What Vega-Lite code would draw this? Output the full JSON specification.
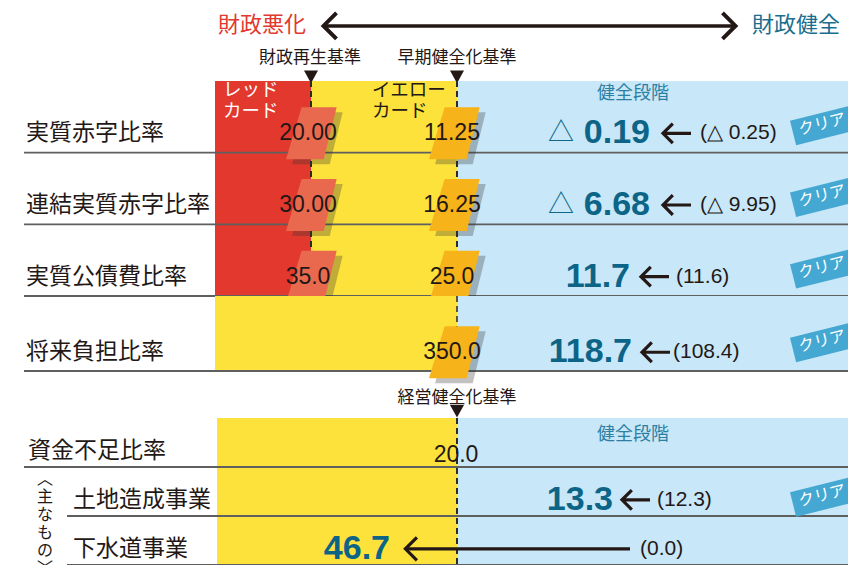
{
"$schema":"https://vega.github.io/schema/vega-lite/v6.json",
"padding":0,
"spacing":0,
"bounds":"flush",
"background":"#ffffff",
"config":{"view":{"stroke":null},"axis":{"disable":true},"concat":{"spacing":0}},
"datasets":{
 "header":[
  {"tier":"direction","side":"worse","label":"財政悪化"},
  {"tier":"direction","side":"better","label":"財政健全"},
  {"tier":"criteria","criterion":"red","label":"財政再生基準"},
  {"tier":"criteria","criterion":"yellow","label":"早期健全化基準"}
 ],
 "ratios":[
  {"item":"実質赤字比率","red":"20.00","yellow":"11.25","sign":"△","value":"0.19","prev":"(△ 0.25)","status":"クリア"},
  {"item":"連結実質赤字比率","red":"30.00","yellow":"16.25","sign":"△","value":"6.68","prev":"(△ 9.95)","status":"クリア"},
  {"item":"実質公債費比率","red":"35.0","yellow":"25.0","sign":"","value":"11.7","prev":"(11.6)","status":"クリア"},
  {"item":"将来負担比率","red":null,"yellow":"350.0","sign":"","value":"118.7","prev":"(108.4)","status":"クリア"}
 ],
 "mgmt":[{"criterion":"経営健全化基準"}],
 "shortage":[
  {"item":"資金不足比率","level":"main","threshold":"20.0","value":null,"prev":null,"status":""},
  {"item":"土地造成事業","level":"sub","threshold":null,"value":"13.3","prev":"(12.3)","status":"クリア"},
  {"item":"下水道事業","level":"sub","threshold":null,"value":"46.7","prev":"(0.0)","status":""}
 ]
},
"vconcat":[
 {
  "width":848,"height":81,
  "data":{"name":"header"},
  "layer":[
   {"transform":[{"filter":"datum.side === 'worse'"}],
    "mark":{"type":"text","align":"left","baseline":"middle","font":"Noto Sans CJK JP","fontSize":22,"color":"#E2382D"},
    "encoding":{"x":{"datum":218,"type":"quantitative","scale":{"domain":[0,848],"nice":false,"zero":false}},
     "y":{"field":"tier","type":"nominal","sort":null,"scale":{"domain":["direction","criteria"],"paddingInner":0,"paddingOuter":0},"bandPosition":0.62},
     "text":{"field":"label"}}},
   {"transform":[{"filter":"datum.side === 'better'"}],
    "mark":{"type":"text","align":"right","baseline":"middle","font":"Noto Sans CJK JP","fontSize":22,"color":"#1A6E8E"},
    "encoding":{"x":{"datum":840,"type":"quantitative","scale":{"domain":[0,848],"nice":false,"zero":false}},
     "y":{"field":"tier","type":"nominal","sort":null,"scale":{"domain":["direction","criteria"],"paddingInner":0,"paddingOuter":0},"bandPosition":0.62},
     "text":{"field":"label"}}},
   {"transform":[{"filter":"datum.side === 'worse'"}],
    "mark":{"type":"rule","strokeWidth":3.5,"color":"#231815"},
    "encoding":{"x":{"datum":326,"type":"quantitative","scale":{"domain":[0,848],"nice":false,"zero":false}},"x2":{"datum":733},
     "y":{"field":"tier","type":"nominal","sort":null,"scale":{"domain":["direction","criteria"],"paddingInner":0,"paddingOuter":0},"bandPosition":0.64}}},
   {"transform":[{"filter":"datum.side === 'worse'"}],
    "mark":{"type":"point","shape":"M 0.5 -1 L -0.5 0 L 0.5 1","size":676,"filled":false,"opacity":1,"stroke":"#231815","strokeWidth":4,"strokeJoin":"miter"},
    "encoding":{"x":{"datum":330,"type":"quantitative","scale":{"domain":[0,848],"nice":false,"zero":false}},
     "y":{"field":"tier","type":"nominal","sort":null,"scale":{"domain":["direction","criteria"],"paddingInner":0,"paddingOuter":0},"bandPosition":0.64}}},
   {"transform":[{"filter":"datum.side === 'worse'"}],
    "mark":{"type":"point","shape":"M -0.5 -1 L 0.5 0 L -0.5 1","size":676,"filled":false,"opacity":1,"stroke":"#231815","strokeWidth":4,"strokeJoin":"miter"},
    "encoding":{"x":{"datum":729,"type":"quantitative","scale":{"domain":[0,848],"nice":false,"zero":false}},
     "y":{"field":"tier","type":"nominal","sort":null,"scale":{"domain":["direction","criteria"],"paddingInner":0,"paddingOuter":0},"bandPosition":0.64}}},
   {"transform":[{"filter":"datum.criterion === 'red'"}],
    "mark":{"type":"text","baseline":"middle","font":"Noto Sans CJK JP","fontSize":17,"color":"#231815"},
    "encoding":{"x":{"datum":310,"type":"quantitative","scale":{"domain":[0,848],"nice":false,"zero":false}},
     "y":{"field":"tier","type":"nominal","sort":null,"scale":{"domain":["direction","criteria"],"paddingInner":0,"paddingOuter":0},"bandPosition":0.43},
     "text":{"field":"label"}}},
   {"transform":[{"filter":"datum.criterion === 'yellow'"}],
    "mark":{"type":"text","baseline":"middle","font":"Noto Sans CJK JP","fontSize":17,"color":"#231815"},
    "encoding":{"x":{"datum":457,"type":"quantitative","scale":{"domain":[0,848],"nice":false,"zero":false}},
     "y":{"field":"tier","type":"nominal","sort":null,"scale":{"domain":["direction","criteria"],"paddingInner":0,"paddingOuter":0},"bandPosition":0.43},
     "text":{"field":"label"}}},
   {"transform":[{"filter":"datum.criterion === 'red'"}],
    "mark":{"type":"point","shape":"M -1 -0.8 L 1 -0.8 L 0 1 Z","size":196,"filled":true,"opacity":1,"color":"#231815"},
    "encoding":{"x":{"datum":311,"type":"quantitative","scale":{"domain":[0,848],"nice":false,"zero":false}},
     "y":{"field":"tier","type":"nominal","sort":null,"scale":{"domain":["direction","criteria"],"paddingInner":0,"paddingOuter":0},"bandPosition":0.88}}},
   {"transform":[{"filter":"datum.criterion === 'yellow'"}],
    "mark":{"type":"point","shape":"M -1 -0.8 L 1 -0.8 L 0 1 Z","size":196,"filled":true,"opacity":1,"color":"#231815"},
    "encoding":{"x":{"datum":457,"type":"quantitative","scale":{"domain":[0,848],"nice":false,"zero":false}},
     "y":{"field":"tier","type":"nominal","sort":null,"scale":{"domain":["direction","criteria"],"paddingInner":0,"paddingOuter":0},"bandPosition":0.88}}}
  ]
 },
 {
  "width":848,"height":215,
  "data":{"name":"ratios"},
  "transform":[{"filter":"datum.red != null"}],
  "layer":[
   {"mark":{"type":"rect","color":"#E2382D","strokeWidth":0},
    "encoding":{"x":{"datum":215,"type":"quantitative","scale":{"domain":[0,848],"nice":false,"zero":false}},"x2":{"datum":311},
     "y":{"field":"item","type":"nominal","sort":null,"scale":{"paddingInner":0,"paddingOuter":0}}}},
   {"mark":{"type":"rect","color":"#FDE23C","strokeWidth":0},
    "encoding":{"x":{"datum":311,"type":"quantitative","scale":{"domain":[0,848],"nice":false,"zero":false}},"x2":{"datum":457},
     "y":{"field":"item","type":"nominal","sort":null,"scale":{"paddingInner":0,"paddingOuter":0}}}},
   {"mark":{"type":"rect","color":"#C8E7F8","strokeWidth":0},
    "encoding":{"x":{"datum":457,"type":"quantitative","scale":{"domain":[0,848],"nice":false,"zero":false}},"x2":{"datum":848},
     "y":{"field":"item","type":"nominal","sort":null,"scale":{"paddingInner":0,"paddingOuter":0}}}},
   {"mark":{"type":"rule","color":"#2a2a2a","strokeWidth":1.5,"strokeDash":[6,4]},
    "encoding":{"x":{"datum":311,"type":"quantitative","scale":{"domain":[0,848],"nice":false,"zero":false}}}},
   {"mark":{"type":"rule","color":"#2a2a2a","strokeWidth":1.5,"strokeDash":[6,4]},
    "encoding":{"x":{"datum":457,"type":"quantitative","scale":{"domain":[0,848],"nice":false,"zero":false}}}},
   {"mark":{"type":"rule","color":"#5f5f5f","strokeWidth":1.8},
    "encoding":{"x":{"datum":24,"type":"quantitative","scale":{"domain":[0,848],"nice":false,"zero":false}},"x2":{"datum":848},
     "y":{"field":"item","type":"nominal","sort":null,"scale":{"paddingInner":0,"paddingOuter":0},"bandPosition":1}}},
   {"mark":{"type":"text","align":"left","baseline":"middle","font":"Noto Sans CJK JP","fontSize":23,"color":"#231815"},
    "encoding":{"x":{"datum":26,"type":"quantitative","scale":{"domain":[0,848],"nice":false,"zero":false}},
     "y":{"field":"item","type":"nominal","sort":null,"scale":{"paddingInner":0,"paddingOuter":0},"bandPosition":0.73},
     "text":{"field":"item"}}},
   {"mark":{"type":"point","shape":"M -0.4 -1 L 0.95 -1 L 0.45 1 L -1 1 Z","size":2704,"filled":true,"opacity":0.3,"color":"#333333","xOffset":6,"yOffset":5},
    "encoding":{"x":{"datum":312,"type":"quantitative","scale":{"domain":[0,848],"nice":false,"zero":false}},
     "y":{"field":"item","type":"nominal","sort":null,"scale":{"paddingInner":0,"paddingOuter":0},"bandPosition":0.73}}},
   {"mark":{"type":"point","shape":"M -0.4 -1 L 0.95 -1 L 0.45 1 L -1 1 Z","size":2704,"filled":true,"opacity":1,"color":"#E9694F"},
    "encoding":{"x":{"datum":312,"type":"quantitative","scale":{"domain":[0,848],"nice":false,"zero":false}},
     "y":{"field":"item","type":"nominal","sort":null,"scale":{"paddingInner":0,"paddingOuter":0},"bandPosition":0.73}}},
   {"mark":{"type":"point","shape":"M -0.4 -1 L 0.95 -1 L 0.45 1 L -1 1 Z","size":2704,"filled":true,"opacity":0.3,"color":"#333333","xOffset":6,"yOffset":5},
    "encoding":{"x":{"datum":455,"type":"quantitative","scale":{"domain":[0,848],"nice":false,"zero":false}},
     "y":{"field":"item","type":"nominal","sort":null,"scale":{"paddingInner":0,"paddingOuter":0},"bandPosition":0.73}}},
   {"mark":{"type":"point","shape":"M -0.4 -1 L 0.95 -1 L 0.45 1 L -1 1 Z","size":2704,"filled":true,"opacity":1,"color":"#F6B31A"},
    "encoding":{"x":{"datum":455,"type":"quantitative","scale":{"domain":[0,848],"nice":false,"zero":false}},
     "y":{"field":"item","type":"nominal","sort":null,"scale":{"paddingInner":0,"paddingOuter":0},"bandPosition":0.73}}},
   {"mark":{"type":"text","baseline":"middle","font":"Liberation Sans","fontSize":23,"color":"#231815"},
    "encoding":{"x":{"datum":308,"type":"quantitative","scale":{"domain":[0,848],"nice":false,"zero":false}},
     "y":{"field":"item","type":"nominal","sort":null,"scale":{"paddingInner":0,"paddingOuter":0},"bandPosition":0.73},
     "text":{"field":"red"}}},
   {"mark":{"type":"text","baseline":"middle","font":"Liberation Sans","fontSize":23,"color":"#231815"},
    "encoding":{"x":{"datum":452,"type":"quantitative","scale":{"domain":[0,848],"nice":false,"zero":false}},
     "y":{"field":"item","type":"nominal","sort":null,"scale":{"paddingInner":0,"paddingOuter":0},"bandPosition":0.73},
     "text":{"field":"yellow"}}},
   {"transform":[{"filter":"datum.item === '実質赤字比率'"}],
    "mark":{"type":"text","align":"left","baseline":"top","lineBreak":"\n","lineHeight":21,"font":"Noto Sans CJK JP","fontSize":18.5,"color":"#ffffff","yOffset":0},
    "encoding":{"x":{"datum":223,"type":"quantitative","scale":{"domain":[0,848],"nice":false,"zero":false}},
     "y":{"field":"item","type":"nominal","sort":null,"scale":{"paddingInner":0,"paddingOuter":0},"bandPosition":0},
     "text":{"value":"レッド\nカード"}}},
   {"transform":[{"filter":"datum.item === '実質赤字比率'"}],
    "mark":{"type":"text","align":"left","baseline":"top","lineBreak":"\n","lineHeight":21,"font":"Noto Sans CJK JP","fontSize":18.5,"color":"#231815","yOffset":0},
    "encoding":{"x":{"datum":372,"type":"quantitative","scale":{"domain":[0,848],"nice":false,"zero":false}},
     "y":{"field":"item","type":"nominal","sort":null,"scale":{"paddingInner":0,"paddingOuter":0},"bandPosition":0},
     "text":{"value":"イエロー\nカード"}}},
   {"transform":[{"filter":"datum.item === '実質赤字比率'"}],
    "mark":{"type":"text","baseline":"top","font":"Noto Sans CJK JP","fontSize":18,"color":"#2C7FA3","yOffset":4},
    "encoding":{"x":{"datum":633,"type":"quantitative","scale":{"domain":[0,848],"nice":false,"zero":false}},
     "y":{"field":"item","type":"nominal","sort":null,"scale":{"paddingInner":0,"paddingOuter":0},"bandPosition":0},
     "text":{"value":"健全段階"}}},
   {"transform":[{"filter":"datum.sign === '△'"}],
    "mark":{"type":"text","baseline":"middle","font":"Noto Sans CJK JP","fontSize":26,"color":"#0F6889"},
    "encoding":{"x":{"datum":561,"type":"quantitative","scale":{"domain":[0,848],"nice":false,"zero":false}},
     "y":{"field":"item","type":"nominal","sort":null,"scale":{"paddingInner":0,"paddingOuter":0},"bandPosition":0.73},
     "text":{"field":"sign"}}},
   {"transform":[{"filter":"datum.sign === '△'"}],
    "mark":{"type":"text","align":"right","baseline":"middle","font":"Liberation Sans","fontWeight":"bold","fontSize":34,"color":"#0C6487"},
    "encoding":{"x":{"datum":650,"type":"quantitative","scale":{"domain":[0,848],"nice":false,"zero":false}},
     "y":{"field":"item","type":"nominal","sort":null,"scale":{"paddingInner":0,"paddingOuter":0},"bandPosition":0.73},
     "text":{"field":"value"}}},
   {"transform":[{"filter":"datum.sign !== '△'"}],
    "mark":{"type":"text","align":"right","baseline":"middle","font":"Liberation Sans","fontWeight":"bold","fontSize":34,"color":"#0C6487"},
    "encoding":{"x":{"datum":630,"type":"quantitative","scale":{"domain":[0,848],"nice":false,"zero":false}},
     "y":{"field":"item","type":"nominal","sort":null,"scale":{"paddingInner":0,"paddingOuter":0},"bandPosition":0.73},
     "text":{"field":"value"}}},
   {"transform":[{"filter":"datum.sign === '△'"}],
    "mark":{"type":"point","shape":"M -1 0 L 1 0 M -0.3 -0.7 L -1 0 L -0.3 0.7","size":784,"filled":false,"opacity":1,"stroke":"#231815","strokeWidth":3.2,"strokeJoin":"miter"},
    "encoding":{"x":{"datum":677,"type":"quantitative","scale":{"domain":[0,848],"nice":false,"zero":false}},
     "y":{"field":"item","type":"nominal","sort":null,"scale":{"paddingInner":0,"paddingOuter":0},"bandPosition":0.73}}},
   {"transform":[{"filter":"datum.sign !== '△'"}],
    "mark":{"type":"point","shape":"M -1 0 L 1 0 M -0.3 -0.7 L -1 0 L -0.3 0.7","size":784,"filled":false,"opacity":1,"stroke":"#231815","strokeWidth":3.2,"strokeJoin":"miter"},
    "encoding":{"x":{"datum":655,"type":"quantitative","scale":{"domain":[0,848],"nice":false,"zero":false}},
     "y":{"field":"item","type":"nominal","sort":null,"scale":{"paddingInner":0,"paddingOuter":0},"bandPosition":0.73}}},
   {"transform":[{"filter":"datum.sign === '△'"}],
    "mark":{"type":"text","align":"left","baseline":"middle","font":"Liberation Sans","fontSize":21,"color":"#231815"},
    "encoding":{"x":{"datum":700,"type":"quantitative","scale":{"domain":[0,848],"nice":false,"zero":false}},
     "y":{"field":"item","type":"nominal","sort":null,"scale":{"paddingInner":0,"paddingOuter":0},"bandPosition":0.73},
     "text":{"field":"prev"}}},
   {"transform":[{"filter":"datum.sign !== '△'"}],
    "mark":{"type":"text","align":"left","baseline":"middle","font":"Liberation Sans","fontSize":21,"color":"#231815"},
    "encoding":{"x":{"datum":676,"type":"quantitative","scale":{"domain":[0,848],"nice":false,"zero":false}},
     "y":{"field":"item","type":"nominal","sort":null,"scale":{"paddingInner":0,"paddingOuter":0},"bandPosition":0.73},
     "text":{"field":"prev"}}},
   {"transform":[{"filter":"datum.status === 'クリア'"}],
    "mark":{"type":"point","shape":"M -1 -0.35 L 1 -0.35 L 1 0.35 L -1 0.35 Z","size":5184,"filled":true,"opacity":1,"color":"#45A8D2","angle":-14,"yOffset":-9,"clip":true},
    "encoding":{"x":{"datum":828,"type":"quantitative","scale":{"domain":[0,848],"nice":false,"zero":false}},
     "y":{"field":"item","type":"nominal","sort":null,"scale":{"paddingInner":0,"paddingOuter":0},"bandPosition":0.73}}},
   {"transform":[{"filter":"datum.status === 'クリア'"}],
    "mark":{"type":"text","baseline":"middle","font":"Noto Sans CJK JP","fontSize":16,"color":"#ffffff","angle":-14,"yOffset":-9,"clip":true},
    "encoding":{"x":{"datum":822,"type":"quantitative","scale":{"domain":[0,848],"nice":false,"zero":false}},
     "y":{"field":"item","type":"nominal","sort":null,"scale":{"paddingInner":0,"paddingOuter":0},"bandPosition":0.73},
     "text":{"field":"status"}}}
  ]
 },
 {
  "width":848,"height":75,
  "data":{"name":"ratios"},
  "transform":[{"filter":"datum.red == null"}],
  "layer":[
   {"mark":{"type":"rect","color":"#FDE23C","strokeWidth":0},
    "encoding":{"x":{"datum":215,"type":"quantitative","scale":{"domain":[0,848],"nice":false,"zero":false}},"x2":{"datum":457},
     "y":{"field":"item","type":"nominal","sort":null,"scale":{"paddingInner":0,"paddingOuter":0}}}},
   {"mark":{"type":"rect","color":"#C8E7F8","strokeWidth":0},
    "encoding":{"x":{"datum":457,"type":"quantitative","scale":{"domain":[0,848],"nice":false,"zero":false}},"x2":{"datum":848},
     "y":{"field":"item","type":"nominal","sort":null,"scale":{"paddingInner":0,"paddingOuter":0}}}},
   {"mark":{"type":"rule","color":"#2a2a2a","strokeWidth":1.5,"strokeDash":[6,4]},
    "encoding":{"x":{"datum":457,"type":"quantitative","scale":{"domain":[0,848],"nice":false,"zero":false}}}},
   {"mark":{"type":"rule","color":"#5f5f5f","strokeWidth":1.8},
    "encoding":{"x":{"datum":24,"type":"quantitative","scale":{"domain":[0,848],"nice":false,"zero":false}},"x2":{"datum":848},
     "y":{"field":"item","type":"nominal","sort":null,"scale":{"paddingInner":0,"paddingOuter":0},"bandPosition":1}}},
   {"mark":{"type":"text","align":"left","baseline":"middle","font":"Noto Sans CJK JP","fontSize":23,"color":"#231815"},
    "encoding":{"x":{"datum":26,"type":"quantitative","scale":{"domain":[0,848],"nice":false,"zero":false}},
     "y":{"field":"item","type":"nominal","sort":null,"scale":{"paddingInner":0,"paddingOuter":0},"bandPosition":0.75},
     "text":{"field":"item"}}},
   {"mark":{"type":"point","shape":"M -0.4 -1 L 0.95 -1 L 0.45 1 L -1 1 Z","size":2704,"filled":true,"opacity":0.3,"color":"#333333","xOffset":6,"yOffset":5},
    "encoding":{"x":{"datum":455,"type":"quantitative","scale":{"domain":[0,848],"nice":false,"zero":false}},
     "y":{"field":"item","type":"nominal","sort":null,"scale":{"paddingInner":0,"paddingOuter":0},"bandPosition":0.75}}},
   {"mark":{"type":"point","shape":"M -0.4 -1 L 0.95 -1 L 0.45 1 L -1 1 Z","size":2704,"filled":true,"opacity":1,"color":"#F6B31A"},
    "encoding":{"x":{"datum":455,"type":"quantitative","scale":{"domain":[0,848],"nice":false,"zero":false}},
     "y":{"field":"item","type":"nominal","sort":null,"scale":{"paddingInner":0,"paddingOuter":0},"bandPosition":0.75}}},
   {"mark":{"type":"text","baseline":"middle","font":"Liberation Sans","fontSize":23,"color":"#231815"},
    "encoding":{"x":{"datum":452,"type":"quantitative","scale":{"domain":[0,848],"nice":false,"zero":false}},
     "y":{"field":"item","type":"nominal","sort":null,"scale":{"paddingInner":0,"paddingOuter":0},"bandPosition":0.75},
     "text":{"field":"yellow"}}},
   {"mark":{"type":"text","align":"right","baseline":"middle","font":"Liberation Sans","fontWeight":"bold","fontSize":34,"color":"#0C6487"},
    "encoding":{"x":{"datum":632,"type":"quantitative","scale":{"domain":[0,848],"nice":false,"zero":false}},
     "y":{"field":"item","type":"nominal","sort":null,"scale":{"paddingInner":0,"paddingOuter":0},"bandPosition":0.75},
     "text":{"field":"value"}}},
   {"mark":{"type":"point","shape":"M -1 0 L 1 0 M -0.3 -0.7 L -1 0 L -0.3 0.7","size":784,"filled":false,"opacity":1,"stroke":"#231815","strokeWidth":3.2,"strokeJoin":"miter"},
    "encoding":{"x":{"datum":656,"type":"quantitative","scale":{"domain":[0,848],"nice":false,"zero":false}},
     "y":{"field":"item","type":"nominal","sort":null,"scale":{"paddingInner":0,"paddingOuter":0},"bandPosition":0.75}}},
   {"mark":{"type":"text","align":"left","baseline":"middle","font":"Liberation Sans","fontSize":21,"color":"#231815"},
    "encoding":{"x":{"datum":673,"type":"quantitative","scale":{"domain":[0,848],"nice":false,"zero":false}},
     "y":{"field":"item","type":"nominal","sort":null,"scale":{"paddingInner":0,"paddingOuter":0},"bandPosition":0.75},
     "text":{"field":"prev"}}},
   {"transform":[{"filter":"datum.status === 'クリア'"}],
    "mark":{"type":"point","shape":"M -1 -0.35 L 1 -0.35 L 1 0.35 L -1 0.35 Z","size":5184,"filled":true,"opacity":1,"color":"#45A8D2","angle":-14,"yOffset":-11,"clip":true},
    "encoding":{"x":{"datum":828,"type":"quantitative","scale":{"domain":[0,848],"nice":false,"zero":false}},
     "y":{"field":"item","type":"nominal","sort":null,"scale":{"paddingInner":0,"paddingOuter":0},"bandPosition":0.75}}},
   {"transform":[{"filter":"datum.status === 'クリア'"}],
    "mark":{"type":"text","baseline":"middle","font":"Noto Sans CJK JP","fontSize":16,"color":"#ffffff","angle":-14,"yOffset":-11,"clip":true},
    "encoding":{"x":{"datum":822,"type":"quantitative","scale":{"domain":[0,848],"nice":false,"zero":false}},
     "y":{"field":"item","type":"nominal","sort":null,"scale":{"paddingInner":0,"paddingOuter":0},"bandPosition":0.75},
     "text":{"field":"status"}}}
  ]
 },
 {
  "width":848,"height":47,
  "data":{"name":"mgmt"},
  "layer":[
   {"mark":{"type":"text","baseline":"middle","font":"Noto Sans CJK JP","fontSize":17,"color":"#231815","yOffset":3},
    "encoding":{"x":{"datum":457,"type":"quantitative","scale":{"domain":[0,848],"nice":false,"zero":false}},"text":{"field":"criterion"}}},
   {"mark":{"type":"point","shape":"M -1 -0.8 L 1 -0.8 L 0 1 Z","size":196,"filled":true,"opacity":1,"color":"#231815","yOffset":16},
    "encoding":{"x":{"datum":457,"type":"quantitative","scale":{"domain":[0,848],"nice":false,"zero":false}}}}
  ]
 },
 {
  "width":848,"height":147,
  "data":{"name":"shortage"},
  "layer":[
   {"mark":{"type":"rect","color":"#FDE23C","strokeWidth":0},
    "encoding":{"x":{"datum":217,"type":"quantitative","scale":{"domain":[0,848],"nice":false,"zero":false}},"x2":{"datum":457},
     "y":{"field":"item","type":"nominal","sort":null,"scale":{"paddingInner":0,"paddingOuter":0}}}},
   {"mark":{"type":"rect","color":"#C8E7F8","strokeWidth":0},
    "encoding":{"x":{"datum":457,"type":"quantitative","scale":{"domain":[0,848],"nice":false,"zero":false}},"x2":{"datum":848},
     "y":{"field":"item","type":"nominal","sort":null,"scale":{"paddingInner":0,"paddingOuter":0}}}},
   {"mark":{"type":"rule","color":"#2a2a2a","strokeWidth":1.5,"strokeDash":[6,4]},
    "encoding":{"x":{"datum":457,"type":"quantitative","scale":{"domain":[0,848],"nice":false,"zero":false}}}},
   {"transform":[{"filter":"datum.level === 'main'"}],
    "mark":{"type":"rule","color":"#5f5f5f","strokeWidth":1.8},
    "encoding":{"x":{"datum":24,"type":"quantitative","scale":{"domain":[0,848],"nice":false,"zero":false}},"x2":{"datum":848},
     "y":{"field":"item","type":"nominal","sort":null,"scale":{"paddingInner":0,"paddingOuter":0},"bandPosition":1}}},
   {"transform":[{"filter":"datum.level === 'sub'"}],
    "mark":{"type":"rule","color":"#5f5f5f","strokeWidth":1.8},
    "encoding":{"x":{"datum":67,"type":"quantitative","scale":{"domain":[0,848],"nice":false,"zero":false}},"x2":{"datum":848},
     "y":{"field":"item","type":"nominal","sort":null,"scale":{"paddingInner":0,"paddingOuter":0},"bandPosition":1}}},
   {"transform":[{"filter":"datum.level === 'main'"}],
    "mark":{"type":"text","align":"left","baseline":"middle","font":"Noto Sans CJK JP","fontSize":23,"color":"#231815"},
    "encoding":{"x":{"datum":28,"type":"quantitative","scale":{"domain":[0,848],"nice":false,"zero":false}},
     "y":{"field":"item","type":"nominal","sort":null,"scale":{"paddingInner":0,"paddingOuter":0},"bandPosition":0.67},
     "text":{"field":"item"}}},
   {"transform":[{"filter":"datum.level === 'sub'"}],
    "mark":{"type":"text","align":"left","baseline":"middle","font":"Noto Sans CJK JP","fontSize":23,"color":"#231815"},
    "encoding":{"x":{"datum":73,"type":"quantitative","scale":{"domain":[0,848],"nice":false,"zero":false}},
     "y":{"field":"item","type":"nominal","sort":null,"scale":{"paddingInner":0,"paddingOuter":0},"bandPosition":0.67},
     "text":{"field":"item"}}},
   {"transform":[{"filter":"datum.item === '土地造成事業'"}],
    "mark":{"type":"text","baseline":"top","lineBreak":"\n","lineHeight":18,"font":"Noto Sans CJK JP","fontSize":16,"color":"#231815","yOffset":4},
    "encoding":{"x":{"datum":45,"type":"quantitative","scale":{"domain":[0,848],"nice":false,"zero":false}},
     "y":{"field":"item","type":"nominal","sort":null,"scale":{"paddingInner":0,"paddingOuter":0},"bandPosition":0},
     "text":{"value":"︿\n主\nな\nも\nの\n﹀"}}},
   {"transform":[{"filter":"datum.level === 'main'"}],
    "mark":{"type":"text","baseline":"middle","font":"Noto Sans CJK JP","fontSize":18,"color":"#2C7FA3"},
    "encoding":{"x":{"datum":633,"type":"quantitative","scale":{"domain":[0,848],"nice":false,"zero":false}},
     "y":{"field":"item","type":"nominal","sort":null,"scale":{"paddingInner":0,"paddingOuter":0},"bandPosition":0.35},
     "text":{"value":"健全段階"}}},
   {"transform":[{"filter":"datum.threshold != null"}],
    "mark":{"type":"text","baseline":"middle","font":"Liberation Sans","fontSize":23,"color":"#231815","yOffset":4},
    "encoding":{"x":{"datum":456,"type":"quantitative","scale":{"domain":[0,848],"nice":false,"zero":false}},
     "y":{"field":"item","type":"nominal","sort":null,"scale":{"paddingInner":0,"paddingOuter":0},"bandPosition":0.67},
     "text":{"field":"threshold"}}},
   {"transform":[{"filter":"datum.status === 'クリア'"}],
    "mark":{"type":"text","align":"right","baseline":"middle","font":"Liberation Sans","fontWeight":"bold","fontSize":34,"color":"#0C6487"},
    "encoding":{"x":{"datum":613,"type":"quantitative","scale":{"domain":[0,848],"nice":false,"zero":false}},
     "y":{"field":"item","type":"nominal","sort":null,"scale":{"paddingInner":0,"paddingOuter":0},"bandPosition":0.67},
     "text":{"field":"value"}}},
   {"transform":[{"filter":"datum.status === 'クリア'"}],
    "mark":{"type":"point","shape":"M -1 0 L 1 0 M -0.3 -0.7 L -1 0 L -0.3 0.7","size":784,"filled":false,"opacity":1,"stroke":"#231815","strokeWidth":3.2,"strokeJoin":"miter"},
    "encoding":{"x":{"datum":636,"type":"quantitative","scale":{"domain":[0,848],"nice":false,"zero":false}},
     "y":{"field":"item","type":"nominal","sort":null,"scale":{"paddingInner":0,"paddingOuter":0},"bandPosition":0.67}}},
   {"transform":[{"filter":"datum.status === 'クリア'"}],
    "mark":{"type":"text","align":"left","baseline":"middle","font":"Liberation Sans","fontSize":21,"color":"#231815"},
    "encoding":{"x":{"datum":657,"type":"quantitative","scale":{"domain":[0,848],"nice":false,"zero":false}},
     "y":{"field":"item","type":"nominal","sort":null,"scale":{"paddingInner":0,"paddingOuter":0},"bandPosition":0.67},
     "text":{"field":"prev"}}},
   {"transform":[{"filter":"datum.status === 'クリア'"}],
    "mark":{"type":"point","shape":"M -1 -0.35 L 1 -0.35 L 1 0.35 L -1 0.35 Z","size":5184,"filled":true,"opacity":1,"color":"#45A8D2","angle":-14,"yOffset":-4,"clip":true},
    "encoding":{"x":{"datum":828,"type":"quantitative","scale":{"domain":[0,848],"nice":false,"zero":false}},
     "y":{"field":"item","type":"nominal","sort":null,"scale":{"paddingInner":0,"paddingOuter":0},"bandPosition":0.67}}},
   {"transform":[{"filter":"datum.status === 'クリア'"}],
    "mark":{"type":"text","baseline":"middle","font":"Noto Sans CJK JP","fontSize":16,"color":"#ffffff","angle":-14,"yOffset":-4,"clip":true},
    "encoding":{"x":{"datum":822,"type":"quantitative","scale":{"domain":[0,848],"nice":false,"zero":false}},
     "y":{"field":"item","type":"nominal","sort":null,"scale":{"paddingInner":0,"paddingOuter":0},"bandPosition":0.67},
     "text":{"field":"status"}}},
   {"transform":[{"filter":"datum.value != null && datum.status !== 'クリア'"}],
    "mark":{"type":"text","align":"right","baseline":"middle","font":"Liberation Sans","fontWeight":"bold","fontSize":34,"color":"#0C6487"},
    "encoding":{"x":{"datum":390,"type":"quantitative","scale":{"domain":[0,848],"nice":false,"zero":false}},
     "y":{"field":"item","type":"nominal","sort":null,"scale":{"paddingInner":0,"paddingOuter":0},"bandPosition":0.67},
     "text":{"field":"value"}}},
   {"transform":[{"filter":"datum.value != null && datum.status !== 'クリア'"}],
    "mark":{"type":"rule","strokeWidth":3.2,"color":"#231815"},
    "encoding":{"x":{"datum":407,"type":"quantitative","scale":{"domain":[0,848],"nice":false,"zero":false}},"x2":{"datum":630},
     "y":{"field":"item","type":"nominal","sort":null,"scale":{"paddingInner":0,"paddingOuter":0},"bandPosition":0.67}}},
   {"transform":[{"filter":"datum.value != null && datum.status !== 'クリア'"}],
    "mark":{"type":"point","shape":"M 0.6 -1 L -0.4 0 L 0.6 1","size":529,"filled":false,"opacity":1,"stroke":"#231815","strokeWidth":3.2,"strokeJoin":"miter"},
    "encoding":{"x":{"datum":410,"type":"quantitative","scale":{"domain":[0,848],"nice":false,"zero":false}},
     "y":{"field":"item","type":"nominal","sort":null,"scale":{"paddingInner":0,"paddingOuter":0},"bandPosition":0.67}}},
   {"transform":[{"filter":"datum.value != null && datum.status !== 'クリア'"}],
    "mark":{"type":"text","align":"left","baseline":"middle","font":"Liberation Sans","fontSize":21,"color":"#231815"},
    "encoding":{"x":{"datum":640,"type":"quantitative","scale":{"domain":[0,848],"nice":false,"zero":false}},
     "y":{"field":"item","type":"nominal","sort":null,"scale":{"paddingInner":0,"paddingOuter":0},"bandPosition":0.67},
     "text":{"field":"prev"}}}
  ]
 }
]
}
